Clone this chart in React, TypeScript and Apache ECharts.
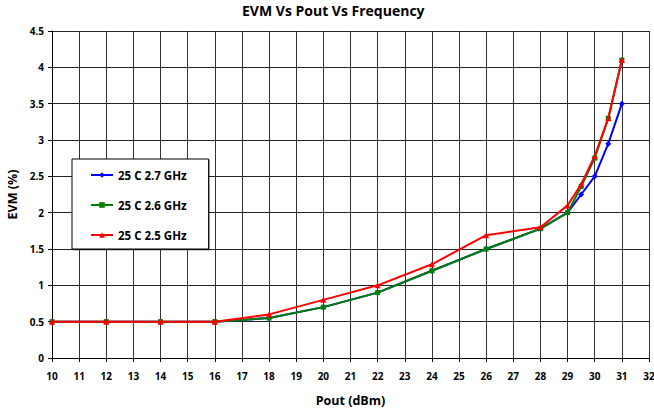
import React, { useEffect, useRef } from "react";
import * as echarts from "echarts";

const pout = [10, 12, 14, 16, 18, 20, 22, 24, 26, 28, 29, 29.5, 30, 30.5, 31];
const evm27 = [0.5, 0.5, 0.5, 0.5, 0.55, 0.7, 0.9, 1.2, 1.5, 1.78, 2.0, 2.25, 2.5, 2.95, 3.5];
const evm26 = [0.5, 0.5, 0.5, 0.5, 0.55, 0.7, 0.9, 1.2, 1.5, 1.78, 2.0, 2.36, 2.75, 3.3, 4.1];
const evm25 = [0.5, 0.5, 0.5, 0.5, 0.6, 0.8, 1.0, 1.29, 1.69, 1.8, 2.1, 2.39, 2.78, 3.3, 4.1];
const seriesNames = ["25 C 2.7 GHz", "25 C 2.6 GHz", "25 C 2.5 GHz"];

const FONT = "'Open Sans', 'DejaVu Sans', sans-serif";

export default function App() {
  const ref = useRef<HTMLDivElement>(null);
  useEffect(() => {
    document.body.style.margin = "0";
    const chart = echarts.init(ref.current!, null, { renderer: "svg" });
    const mk = (vals: number[]) => pout.map((x, i) => [x, vals[i]]);
    const bold = { fontFamily: FONT, fontWeight: 700, color: "#000" };
    chart.setOption({
      animation: false,
      backgroundColor: "#fff",
      textStyle: { fontFamily: FONT },
      title: {
        text: "EVM Vs Pout Vs Frequency",
        left: 242,
        top: 3,
        padding: 0,
        textStyle: { ...bold, fontSize: 14 },
      },
      grid: { left: 52, right: 5, top: 31, bottom: 51, containLabel: false, outerBoundsMode: "none" },
      legend: {
        orient: "vertical",
        left: 72,
        top: 159,
        itemWidth: 22,
        itemHeight: 7,
        itemGap: 18,
        padding: [10, 22, 8, 18],
        backgroundColor: "#fff",
        borderColor: "#000",
        borderWidth: 1,
        shadowColor: "rgba(0,0,0,0.35)",
        shadowOffsetX: 1,
        shadowOffsetY: 1,
        shadowBlur: 1,
        textStyle: { ...bold, fontSize: 11.5 },
        data: seriesNames,
      },
      xAxis: {
        type: "value",
        min: 10,
        max: 32,
        interval: 1,
        name: "Pout (dBm)",
        nameLocation: "middle",
        nameGap: 36,
        nameTextStyle: { ...bold, fontSize: 12.5 },
        axisLine: { show: true, lineStyle: { color: "#000", width: 1 } },
        axisTick: { show: true, length: 4, lineStyle: { color: "#000" } },
        axisLabel: { ...bold, margin: 13, fontSize: 10 },
        splitLine: { show: true, lineStyle: { color: "#333", width: 1 } },
      },
      yAxis: {
        type: "value",
        min: 0,
        max: 4.5,
        interval: 0.5,
        name: "EVM (%)",
        nameLocation: "middle",
        nameGap: 32,
        nameTextStyle: { ...bold, fontSize: 12.5 },
        axisLine: { show: true, lineStyle: { color: "#000", width: 1 } },
        axisTick: { show: true, length: 4, lineStyle: { color: "#000" } },
        axisLabel: { ...bold, margin: 8, fontSize: 10 },
        splitLine: { show: true, lineStyle: { color: "#222", width: 1 } },
      },
      series: [
        {
          name: seriesNames[0],
          type: "line",
          data: mk(evm27),
          symbol: "diamond",
          symbolSize: 6,
          showAllSymbol: true,
          lineStyle: { color: "#0000ff", width: 2 },
          itemStyle: { color: "#0000ff" },
          z: 2,
        },
        {
          name: seriesNames[1],
          type: "line",
          data: mk(evm26),
          symbol: "rect",
          symbolSize: 5,
          showAllSymbol: true,
          lineStyle: { color: "#008000", width: 2 },
          itemStyle: { color: "#008000" },
          z: 3,
        },
        {
          name: seriesNames[2],
          type: "line",
          data: mk(evm25),
          symbol: "triangle",
          symbolSize: 6,
          showAllSymbol: true,
          lineStyle: { color: "#ff0000", width: 2 },
          itemStyle: { color: "#ff0000" },
          z: 4,
        },
      ],
    });
    return () => chart.dispose();
  }, []);
  return <div ref={ref} style={{ width: 654, height: 409 }} />;
}
